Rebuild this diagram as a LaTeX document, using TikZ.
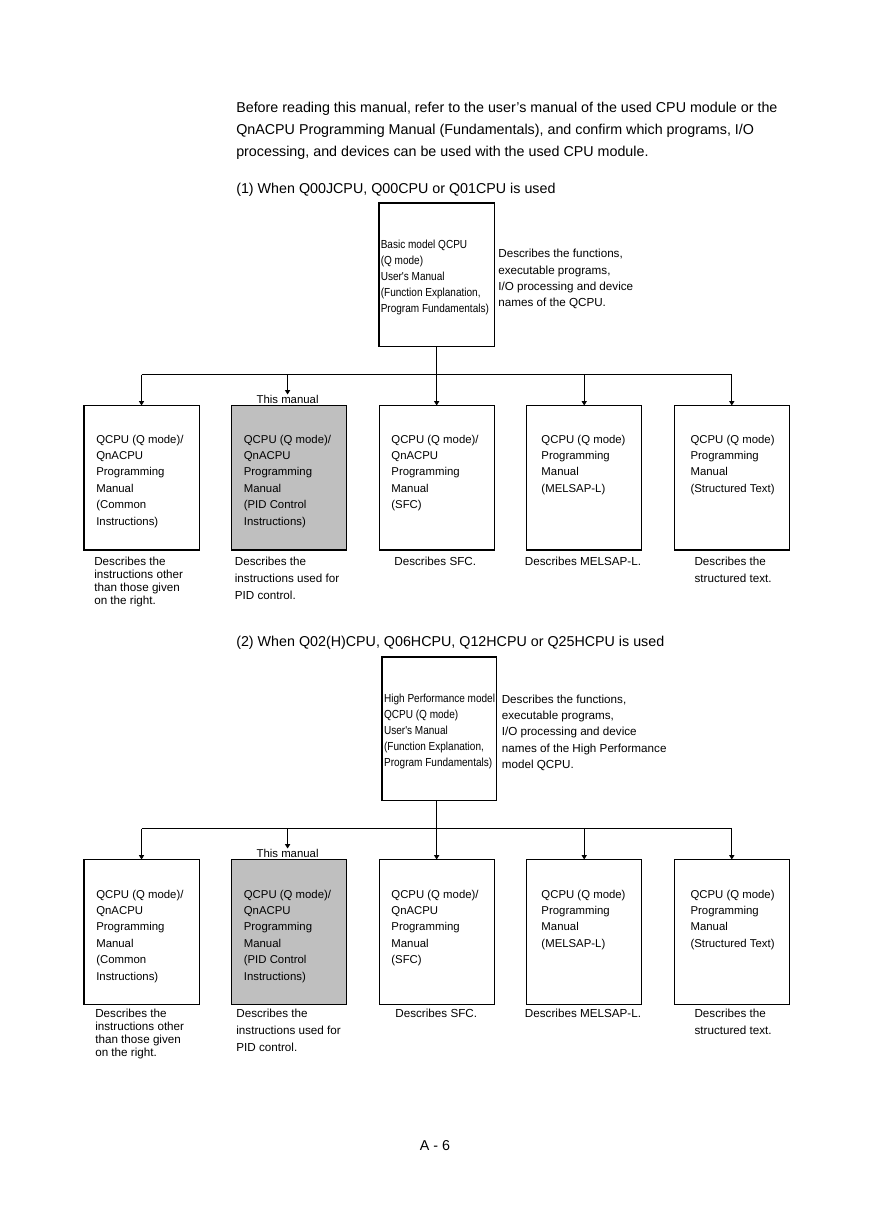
\documentclass[tikz,border=0pt]{standalone}
\usepackage{fontspec}
\setmainfont{Liberation Sans}
\newfontfamily\narrowfont[FakeStretch=0.86]{Liberation Sans}
\usetikzlibrary{arrows.meta, positioning, calc}
\tikzstyle{manual} = [rectangle, draw, line width=0.7pt, inner sep=0pt, outer sep=0pt, minimum width=78.9pt, minimum height=99.1pt, anchor=north west, fill=white]
\tikzstyle{usermanual} = [manual, minimum height=98.4pt]
\tikzstyle{thismanual} = [manual, fill=black!25]
\tikzstyle{mantext} = [inner sep=0pt, anchor=north west, align=left, font=\fontsize{7.8}{11.3}\selectfont]
\tikzstyle{usertext} = [mantext, font=\narrowfont\fontsize{8}{11}\selectfont]
\tikzstyle{desc} = [inner sep=0pt, anchor=north west, align=left, font=\fontsize{8}{11.2}\selectfont]
\tikzstyle{desctight} = [desc, font=\fontsize{8}{8.9}\selectfont]
\tikzstyle{descloose} = [desc, font=\fontsize{8}{11.7}\selectfont]
\tikzstyle{heading} = [inner sep=0pt, anchor=north west, align=left, font=\fontsize{9.8}{15.1}\selectfont]
\tikzstyle{bus} = [line width=0.7pt]
\tikzstyle{branch} = [line width=0.7pt, ->, >={Triangle[length=3pt, width=3.5pt]}]

\begin{document}
\begin{tikzpicture}[x=0.6858pt, y=-0.6858pt, node distance=22.3pt]

	\path[use as bounding box, fill=white] (0,0) rectangle (868,1228);

	% Introduction
	\node (intro) [heading] at (236,101.5) {Before reading this manual, refer to the user's manual of the used CPU module or the\\QnACPU Programming Manual (Fundamentals), and confirm which programs, I/O\\processing, and devices can be used with the used CPU module.};
	\node (head1) [heading] at (236,182.5) {(1) When Q00JCPU, Q00CPU or Q01CPU is used};

	% Section 1 - user's manual
	\node (basic1) [usermanual] at (379,203) {};
	\node (basic1t) [usertext] at ($(basic1.north west)+(1.5,37)$) {Basic model QCPU\\(Q mode)\\User's Manual\\(Function Explanation,\\Program Fundamentals)};
	\node (basic1d) [desc] at ($(basic1.north east)+(4,46)$) {Describes the functions,\\executable programs,\\I/O processing and device\\names of the QCPU.};

	% Section 1 - programming manuals
	\node (qcom1) [manual] at (84,405.5) {};
	\node (qpid1) [thismanual, right=of qcom1] {};
	\node (qsfc1) [manual, right=of qpid1] {};
	\node (qmel1) [manual, right=of qsfc1] {};
	\node (qst1) [manual, right=of qmel1] {};

	\node (qcom1t) [mantext] at ($(qcom1.north west)+(12,29)$) {QCPU (Q mode)/\\QnACPU\\Programming\\Manual\\(Common\\Instructions)};
	\node (qpid1t) [mantext] at ($(qpid1.north west)+(12,29)$) {QCPU (Q mode)/\\QnACPU\\Programming\\Manual\\(PID Control\\Instructions)};
	\node (qsfc1t) [mantext] at ($(qsfc1.north west)+(12,29)$) {QCPU (Q mode)/\\QnACPU\\Programming\\Manual\\(SFC)};
	\node (qmel1t) [mantext] at ($(qmel1.north west)+(14.5,29)$) {QCPU (Q mode)\\Programming\\Manual\\(MELSAP-L)};
	\node (qst1t) [mantext] at ($(qst1.north west)+(16,29)$) {QCPU (Q mode)\\Programming\\Manual\\(Structured Text)};

	\node (this1) [mantext, anchor=north] at ($(qpid1.north)+(-1.5,-11)$) {This manual};

	\node (qcom1d) [desctight] at ($(qcom1.south west)+(10,7)$) {Describes the\\instructions other\\than those given\\on the right.};
	\node (qpid1d) [descloose] at ($(qpid1.south west)+(3,7)$) {Describes the\\instructions used for\\PID control.};
	\node (qsfc1d) [desc] at ($(qsfc1.south west)+(15,7)$) {Describes SFC.};
	\node (qmel1d) [desc] at ($(qmel1.south west)+(-2,7)$) {Describes MELSAP-L.};
	\node (qst1d) [desc] at ($(qst1.south west)+(20,7)$) {Describes the\\structured text.};

	% Section 1 - arrows
	\coordinate (bus1) at ($(qsfc1.north)+(0,-31)$);
	\draw[bus] (basic1.south -| bus1) -- (bus1);
	\draw[bus] (bus1 -| qcom1) -- (bus1 -| qst1);
	\draw[branch] (bus1 -| qcom1) -- (qcom1.north);
	\draw[branch] (bus1 -| this1) -- (this1.north);
	\draw[branch] (bus1) -- (qsfc1.north);
	\draw[branch] (bus1 -| qmel1) -- (qmel1.north);
	\draw[branch] (bus1 -| qst1) -- (qst1.north);

	% Section 2 - user's manual
	\node (head2) [heading] at (236,635.5) {(2) When Q02(H)CPU, Q06HCPU, Q12HCPU or Q25HCPU is used};
	\node (high2) [usermanual, minimum height=98.1pt, minimum width=78.2pt] at (382,657) {};
	\node (high2t) [usertext] at ($(high2.north west)+(1.8,36.5)$) {High Performance model\\QCPU (Q mode)\\User's Manual\\(Function Explanation,\\Program Fundamentals)};
	\node (high2d) [desc] at ($(high2.north east)+(5.5,37.5)$) {Describes the functions,\\executable programs,\\I/O processing and device\\names of the High Performance\\model QCPU.};

	% Section 2 - programming manuals
	\node (qcom2) [manual] at (84,859.5) {};
	\node (qpid2) [thismanual, right=of qcom2] {};
	\node (qsfc2) [manual, right=of qpid2] {};
	\node (qmel2) [manual, right=of qsfc2] {};
	\node (qst2) [manual, right=of qmel2] {};

	\node (qcom2t) [mantext] at ($(qcom2.north west)+(12,30)$) {QCPU (Q mode)/\\QnACPU\\Programming\\Manual\\(Common\\Instructions)};
	\node (qpid2t) [mantext] at ($(qpid2.north west)+(12,30)$) {QCPU (Q mode)/\\QnACPU\\Programming\\Manual\\(PID Control\\Instructions)};
	\node (qsfc2t) [mantext] at ($(qsfc2.north west)+(12,30)$) {QCPU (Q mode)/\\QnACPU\\Programming\\Manual\\(SFC)};
	\node (qmel2t) [mantext] at ($(qmel2.north west)+(14.5,30)$) {QCPU (Q mode)\\Programming\\Manual\\(MELSAP-L)};
	\node (qst2t) [mantext] at ($(qst2.north west)+(16,30)$) {QCPU (Q mode)\\Programming\\Manual\\(Structured Text)};

	\node (this2) [mantext, anchor=north] at ($(qpid2.north)+(-1.5,-11)$) {This manual};

	\node (qcom2d) [desctight] at ($(qcom2.south west)+(11,5)$) {Describes the\\instructions other\\than those given\\on the right.};
	\node (qpid2d) [descloose] at ($(qpid2.south west)+(4.5,5)$) {Describes the\\instructions used for\\PID control.};
	\node (qsfc2d) [desc] at ($(qsfc2.south west)+(16,5)$) {Describes SFC.};
	\node (qmel2d) [desc] at ($(qmel2.south west)+(-2,5)$) {Describes MELSAP-L.};
	\node (qst2d) [desc] at ($(qst2.south west)+(20,5)$) {Describes the\\structured text.};

	% Section 2 - arrows
	\coordinate (bus2) at ($(qsfc2.north)+(0,-31)$);
	\draw[bus] (high2.south -| bus2) -- (bus2);
	\draw[bus] (bus2 -| qcom2) -- (bus2 -| qst2);
	\draw[branch] (bus2 -| qcom2) -- (qcom2.north);
	\draw[branch] (bus2 -| this2) -- (this2.north);
	\draw[branch] (bus2) -- (qsfc2.north);
	\draw[branch] (bus2 -| qmel2) -- (qmel2.north);
	\draw[branch] (bus2 -| qst2) -- (qst2.north);

	% Page number
	\node (page) [heading, anchor=center] at (435,1146) {A - 6};

\end{tikzpicture}
\end{document}
